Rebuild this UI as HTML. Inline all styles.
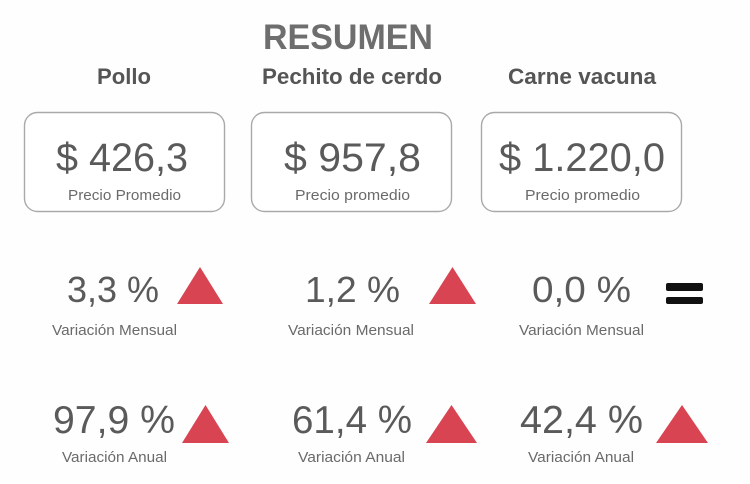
<!DOCTYPE html>
<html>
<head>
<meta charset="utf-8">
<style>
  html,body{margin:0;padding:0;background:#fefefe;}
  body{width:750px;height:484px;overflow:hidden;}
  svg{display:block;}
  text{font-family:"Liberation Sans","DejaVu Sans",sans-serif;}
  .t{font-weight:bold;fill:#6e6e6e;font-size:35px;}
  .h{font-weight:bold;fill:#555;font-size:22.5px;}
  .p{fill:#5a5a5a;font-size:40px;}
  .s{fill:#6a6a6a;font-size:15px;}
  .v{fill:#5a5a5a;font-size:36px;}
  .v2{fill:#5a5a5a;font-size:39px;}
  .tri{fill:#d84452;}
</style>
</head>
<body>
<svg width="750" height="484" viewBox="0 0 750 484" xmlns="http://www.w3.org/2000/svg">
  <rect x="0" y="0" width="750" height="484" fill="#fefefe"/>
  <!-- Title -->
  <text class="t" x="263" y="49" textLength="170" lengthAdjust="spacingAndGlyphs">RESUMEN</text>
  <!-- Headers -->
  <text class="h" x="97" y="84" textLength="54" lengthAdjust="spacingAndGlyphs">Pollo</text>
  <text class="h" x="262" y="84" textLength="180" lengthAdjust="spacingAndGlyphs">Pechito de cerdo</text>
  <text class="h" x="508" y="84" textLength="148" lengthAdjust="spacingAndGlyphs">Carne vacuna</text>
  <!-- Boxes -->
  <rect x="24.5" y="112.5" width="200" height="99" rx="13" ry="13" fill="#fff" stroke="#a9a9a9" stroke-width="1.4"/>
  <rect x="251.5" y="112.5" width="200" height="99" rx="13" ry="13" fill="#fff" stroke="#a9a9a9" stroke-width="1.4"/>
  <rect x="481.5" y="112.5" width="200" height="99" rx="13" ry="13" fill="#fff" stroke="#a9a9a9" stroke-width="1.4"/>
  <!-- Prices -->
  <text class="p" x="56" y="171" textLength="132" lengthAdjust="spacingAndGlyphs">$ 426,3</text>
  <text class="p" x="284" y="171" textLength="137" lengthAdjust="spacingAndGlyphs">$ 957,8</text>
  <text class="p" x="499" y="171" textLength="166" lengthAdjust="spacingAndGlyphs">$ 1.220,0</text>
  <text class="s" x="68" y="200" textLength="113" lengthAdjust="spacingAndGlyphs">Precio Promedio</text>
  <text class="s" x="295" y="200" textLength="115" lengthAdjust="spacingAndGlyphs">Precio promedio</text>
  <text class="s" x="525" y="200" textLength="115" lengthAdjust="spacingAndGlyphs">Precio promedio</text>
  <!-- Monthly -->
  <text class="v" x="67" y="302" textLength="92" lengthAdjust="spacingAndGlyphs">3,3 %</text>
  <text class="v" x="305" y="302" textLength="95" lengthAdjust="spacingAndGlyphs">1,2 %</text>
  <text class="v" x="532" y="302" textLength="99" lengthAdjust="spacingAndGlyphs">0,0 %</text>
  <polygon class="tri" points="177,304 223,304 200,267"/>
  <polygon class="tri" points="429,304 476,304 452.5,267"/>
  <rect x="666" y="283" width="37" height="8" rx="2" fill="#111"/>
  <rect x="666" y="297" width="37" height="7" rx="2" fill="#111"/>
  <text class="s" x="52" y="335" textLength="125" lengthAdjust="spacingAndGlyphs">Variación Mensual</text>
  <text class="s" x="288" y="335" textLength="126" lengthAdjust="spacingAndGlyphs">Variación Mensual</text>
  <text class="s" x="519" y="335" textLength="125" lengthAdjust="spacingAndGlyphs">Variación Mensual</text>
  <!-- Annual -->
  <text class="v2" x="53" y="433" textLength="122" lengthAdjust="spacingAndGlyphs">97,9 %</text>
  <text class="v2" x="292" y="433" textLength="120" lengthAdjust="spacingAndGlyphs">61,4 %</text>
  <text class="v2" x="520" y="433" textLength="123" lengthAdjust="spacingAndGlyphs">42,4 %</text>
  <polygon class="tri" points="182,443 229,443 205.5,405"/>
  <polygon class="tri" points="426,443 477,443 451.5,405"/>
  <polygon class="tri" points="656,443 708,443 682,405"/>
  <text class="s" x="62" y="462" textLength="105" lengthAdjust="spacingAndGlyphs">Variación Anual</text>
  <text class="s" x="298" y="462" textLength="107" lengthAdjust="spacingAndGlyphs">Variación Anual</text>
  <text class="s" x="528" y="462" textLength="106" lengthAdjust="spacingAndGlyphs">Variación Anual</text>
</svg>
</body>
</html>
